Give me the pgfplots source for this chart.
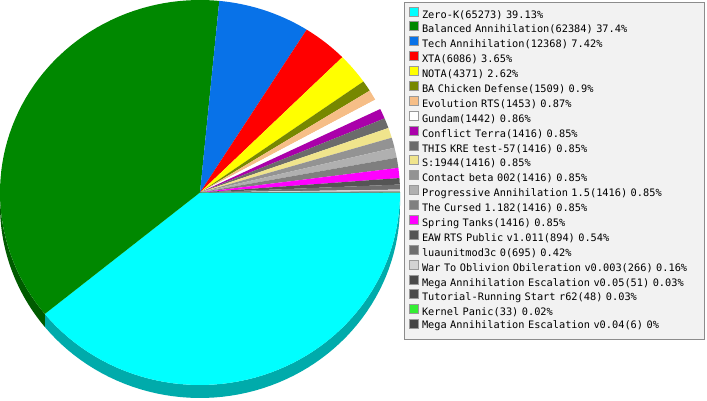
\documentclass[border=0pt]{standalone}
\usepackage{pgfplots}
\usepackage{pgfplotstable}
\pgfplotsset{compat=1.18}
\usepackage{fontspec}
\newfontfamily\legendfont{DejaVu Sans Mono}
\newcommand\legfnt{\legendfont\fontsize{10.3}{12}\selectfont}

% slice colours
\definecolor{zk}{RGB}{0,255,255}
\definecolor{ba}{RGB}{0,136,0}
\definecolor{ta}{RGB}{8,114,232}
\definecolor{xta}{RGB}{255,0,0}
\definecolor{nota}{RGB}{255,255,0}
\definecolor{chk}{RGB}{119,136,0}
\definecolor{evo}{RGB}{246,190,135}
\definecolor{gnd}{RGB}{255,255,255}
\definecolor{ct}{RGB}{170,0,170}
\definecolor{kre}{RGB}{107,107,107}
\definecolor{sww}{RGB}{240,228,140}
\definecolor{cbeta}{RGB}{147,147,147}
\definecolor{pa}{RGB}{176,176,176}
\definecolor{cursed}{RGB}{127,127,127}
\definecolor{tanks}{RGB}{255,0,255}
\definecolor{eaw}{RGB}{85,85,85}
\definecolor{lua}{RGB}{110,110,110}
\definecolor{wto}{RGB}{211,211,211}
\definecolor{maefive}{RGB}{74,74,74}
\definecolor{tut}{RGB}{74,74,74}
\definecolor{kp}{RGB}{51,238,51}
\definecolor{maefour}{RGB}{68,68,68}

% games played per mod
\pgfplotstableread[col sep=comma]{
name,count,pct,col
Zero-K,65273,39.13,zk
Balanced Annihilation,62384,37.4,ba
Tech Annihilation,12368,7.42,ta
XTA,6086,3.65,xta
NOTA,4371,2.62,nota
BA Chicken Defense,1509,0.9,chk
Evolution RTS,1453,0.87,evo
Gundam,1442,0.86,gnd
Conflict Terra,1416,0.85,ct
THIS KRE test-57,1416,0.85,kre
S:1944,1416,0.85,sww
Contact beta 002,1416,0.85,cbeta
Progressive Annihilation 1.5,1416,0.85,pa
The Cursed 1.182,1416,0.85,cursed
Spring Tanks,1416,0.85,tanks
EAW RTS Public v1.011,894,0.54,eaw
luaunitmod3c 0,695,0.42,lua
War To Oblivion Obileration v0.003,266,0.16,wto
Mega Annihilation Escalation v0.05,51,0.03,maefive
Tutorial-Running Start r62,48,0.03,tut
Kernel Panic,33,0.02,kp
Mega Annihilation Escalation v0.04,6,0,maefour
}\games

\def\depth{0.0675}

\begin{document}
\begin{tikzpicture}
\useasboundingbox (0pt,0pt) rectangle (707pt,400pt);
\begin{axis}[
  at={(0pt,15pt)}, anchor=south west,
  scale only axis, width=400pt, height=385pt,
  xmin=-1, xmax=1, ymin=-1, ymax=1,
  hide axis, clip=false,
  legend cell align=left,
  legend image code/.code={\draw[line width=1pt, draw=black!40, #1] (0.5pt,-0.5pt) rectangle (9.5pt,8.5pt);},
  legend style={
    at={(axis description cs:1.01,0.9948)}, anchor=north west,
    fill=black!5, draw=black!45, line width=1pt,
    font=\legfnt,
    inner xsep=4pt, inner ysep=4pt,
    row sep=0.89pt,
    /tikz/every odd column/.append style={column sep=2pt},
    nodes={inner xsep=1.5pt, inner ysep=0pt, text height=7.5pt, text depth=2.5pt, text width=277pt},
    /tikz/row 22/.style={every node/.append style={text depth=7.5pt}},
  },
]
% total number of games
\def\total{0}
\pgfplotsforeachungrouped \i in {0,...,21}{%
  \pgfplotstablegetelem{\i}{count}\of\games
  \edef\total{\fpeval{\total+\pgfplotsretval}}%
}
% side of the disc (front half only)
\def\cum{0}
\pgfplotsforeachungrouped \i in {0,...,21}{%
  \pgfplotstablegetelem{\i}{count}\of\games \let\cnt\pgfplotsretval
  \pgfplotstablegetelem{\i}{col}\of\games \let\slicecol\pgfplotsretval
  \edef\a{\fpeval{360*\cum/\total}}%
  \edef\cum{\fpeval{\cum+\cnt}}%
  \edef\b{\fpeval{360*\cum/\total}}%
  \edef\lo{\fpeval{max(\a,0)}}%
  \edef\hi{\fpeval{min(\b,180)}}%
  \ifnum\fpeval{\hi>\lo}=1
    \edef\side{\noexpand\addplot[fill=\slicecol!67!black, draw=none, forget plot,
      domain=\lo:\hi, samples=60]
      ({cos(x)},{-sin(x)}) -- plot[domain=\lo:\hi, samples=60]
      ({cos(\hi+\lo-\noexpand\x)},{-sin(\hi+\lo-\noexpand\x)-\depth}) -- cycle;}%
    \side
  \fi
}
% top face of the disc, clockwise from three o'clock
\def\cum{0}
\pgfplotsforeachungrouped \i in {0,...,21}{%
  \pgfplotstablegetelem{\i}{count}\of\games \let\cnt\pgfplotsretval
  \pgfplotstablegetelem{\i}{col}\of\games \let\slicecol\pgfplotsretval
  \edef\a{\fpeval{360*\cum/\total}}%
  \edef\cum{\fpeval{\cum+\cnt}}%
  \edef\b{\fpeval{360*\cum/\total}}%
  \edef\slice{\noexpand\addplot[fill=\slicecol, draw=none, forget plot,
    domain=\a:\b, samples=60]
    ({cos(x)},{-sin(x)}) -- (axis cs:0,0) -- cycle;}%
  \slice
}
% legend
\pgfplotsforeachungrouped \i in {0,...,21}{%
  \pgfplotstablegetelem{\i}{name}\of\games \let\nm\pgfplotsretval
  \pgfplotstablegetelem{\i}{count}\of\games \let\cnt\pgfplotsretval
  \pgfplotstablegetelem{\i}{pct}\of\games \let\pc\pgfplotsretval
  \pgfplotstablegetelem{\i}{col}\of\games \let\slicecol\pgfplotsretval
  \edef\entry{\noexpand\addlegendimage{fill=\slicecol}%
    \noexpand\addlegendentry{\noexpand\legfnt \nm(\cnt) \pc\noexpand\%}}%
  \entry
}
\end{axis}
\end{tikzpicture}
\end{document}
